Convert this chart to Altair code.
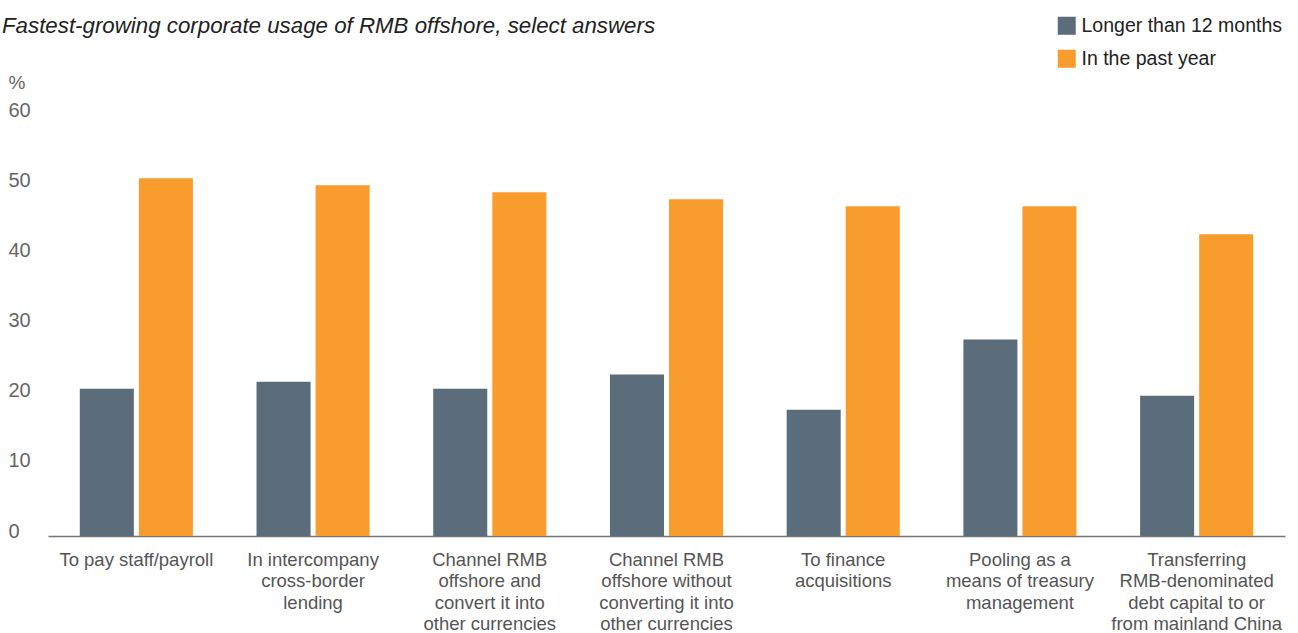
import altair as alt
import pandas as pd

categories = [
    "To pay staff/payroll",
    "In intercompany|cross-border|lending",
    "Channel RMB|offshore and|convert it into|other currencies",
    "Channel RMB|offshore without|converting it into|other currencies",
    "To finance|acquisitions",
    "Pooling as a|means of treasury|management",
    "Transferring|RMB-denominated|debt capital to or|from mainland China",
]
series = ["Longer than 12 months", "In the past year"]
longer_vals = [21, 22, 21, 23, 18, 28, 20]
past_vals = [51, 50, 49, 48, 47, 47, 43]
colors = ["#5b6d7b", "#f89c2e"]

rows = []
for c, a, b in zip(categories, longer_vals, past_vals):
    rows.append({"cat": c, "series": series[0], "value": a})
    rows.append({"cat": c, "series": series[1], "value": b})
df = pd.DataFrame(rows)

FONT = "Liberation Sans"

chart = alt.Chart(df).mark_bar().encode(
    x=alt.X("cat:N", sort=categories,
            scale=alt.Scale(paddingInner=0.36, paddingOuter=0.18),
            axis=alt.Axis(title=None, labelAngle=0, labelExpr="split(datum.label, '|')",
                          labelFontSize=18.5, labelColor="#555555", labelFont=FONT,
                          labelLineHeight=21.5, labelPadding=14, ticks=False,
                          domainColor="#777777", domainWidth=1.5, labelBaseline="top",
                          labelLimit=300)),
    xOffset=alt.XOffset("series:N", sort=series,
                        scale=alt.Scale(paddingInner=0.085, paddingOuter=0)),
    y=alt.Y("value:Q", scale=alt.Scale(domain=[0, 60]),
            axis=alt.Axis(values=[0, 10, 20, 30, 40, 50, 60], grid=False, domain=False,
                          ticks=False, tickSize=0, labelAlign="left", labelPadding=40,
                          labelFontSize=20, labelColor="#666666", labelFont=FONT,
                          labelOffset=-5, labelBaseline="middle",
                          title="%", titleAngle=0, titleAlign="left", titleBaseline="middle",
                          titleX=-40, titleY=-33, titleFontSize=19, titleFontWeight="normal",
                          titleColor="#666666", titleFont=FONT)),
    color=alt.Color("series:N", sort=series,
                    scale=alt.Scale(domain=series, range=colors),
                    legend=alt.Legend(title=None, orient="none", legendX=1009, legendY=-99,
                                      symbolType="square", symbolSize=324, symbolStrokeWidth=0,
                                      symbolOpacity=1, labelFontSize=19.5, labelColor="#222222",
                                      labelFont=FONT, rowPadding=12, labelOffset=5,
                                      labelLimit=300)),
).properties(
    width=1237, height=421,
    title=alt.TitleParams("Fastest-growing corporate usage of RMB offshore, select answers",
                          anchor="start", frame="group", fontStyle="italic", fontWeight="normal",
                          fontSize=22.3, color="#222222", font=FONT, dx=-46, dy=25),
    padding={"left": 48, "top": 115, "right": 13, "bottom": 97},
    autosize=alt.AutoSizeParams(type="none"),
).configure_view(stroke=None)

chart.save("out.html", embed_options={"renderer": "svg", "actions": False})
